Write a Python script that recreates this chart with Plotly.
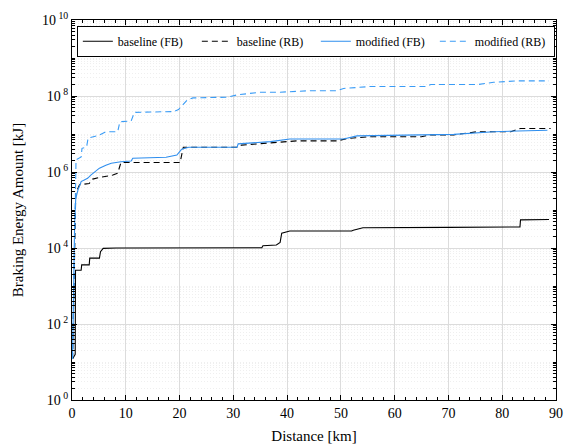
import plotly.graph_objects as go

# ---- data ----
base_fb_x = [0.1, 0.6, 0.65, 1.7, 1.8, 3.2, 3.3, 5.1, 5.3, 5.8, 8.2, 35.3, 35.5, 38.0, 38.7, 39.0, 40.5,
             52.0, 52.3, 54.1, 70.0, 83.3, 83.4, 88.7]
base_fb_y = [12, 16, 2.6e3, 2.6e3, 3.6e3, 3.6e3, 5.4e3, 5.4e3, 8.0e3, 9.8e3, 1.0e4, 1.02e4, 1.15e4, 1.2e4,
             1.4e4, 2.45e4, 2.8e4, 2.8e4, 2.95e4, 3.4e4, 3.5e4, 3.6e4, 5.5e4, 5.6e4]

base_rb_x = [0.1, 0.4, 0.6, 0.7, 1.4, 3.2, 3.85, 5.1, 7.6, 8.5, 9.1, 20.1, 20.7, 30.7, 31.5, 36.9, 41.8,
             49.3, 51.2, 55.5, 65.0, 66.7, 71.0, 75.4, 81.6, 83.4, 89.0]
base_rb_y = [12, 1e3, 3e4, 2.8e5, 4.6e5, 5.0e5, 6.5e5, 7.2e5, 8.3e5, 9.3e5, 1.78e6, 1.78e6, 4.5e6, 4.5e6,
             5.1e6, 5.9e6, 6.6e6, 6.6e6, 7.6e6, 8.5e6, 8.5e6, 9.5e6, 9.5e6, 1.15e7, 1.15e7, 1.4e7, 1.4e7]

mod_fb_x = [0.1, 0.3, 0.5, 0.7, 1.06, 1.7, 2.9, 3.5, 5.1, 6.3, 7.3, 9.1, 11.0, 11.3, 17.5, 19.5, 20.4,
            21.7, 30.7, 30.9, 36.9, 40.5, 50.5, 53.0, 58.6, 71.0, 78.4, 88.4]
mod_fb_y = [12, 1e3, 5e4, 2e5, 3.2e5, 5.6e5, 6.8e5, 8.3e5, 1.26e6, 1.5e6, 1.7e6, 1.86e6, 1.95e6, 2.3e6,
            2.45e6, 2.8e6, 4.0e6, 4.5e6, 4.5e6, 5.5e6, 6.3e6, 7.4e6, 7.4e6, 8.9e6, 9.3e6, 9.8e6, 1.15e7, 1.26e7]

mod_rb_x = [0.1, 0.3, 0.5, 0.75, 1.7, 1.86, 2.7, 3.0, 5.0, 6.3, 8.5, 8.9, 11.0, 11.6, 18.9, 19.8, 21.4,
            22.5, 28.8, 30.7, 35.0, 38.7, 44.3, 49.3, 50.5, 55.5, 66.0, 66.7, 75.4, 78.4, 82.8, 88.7]
mod_rb_y = [12, 1e3, 1e5, 2.1e6, 2.5e6, 4.2e6, 4.5e6, 7.8e6, 9.3e6, 1.15e7, 1.15e7, 2.1e7, 2.2e7, 3.7e7,
            3.9e7, 4.4e7, 7.8e7, 8.9e7, 9.3e7, 1.07e8, 1.26e8, 1.26e8, 1.38e8, 1.38e8, 1.58e8, 1.78e8,
            1.78e8, 2.0e8, 2.0e8, 2.3e8, 2.5e8, 2.5e8]

series_names = ["baseline (FB)", "baseline (RB)", "modified (FB)", "modified (RB)"]

y_exponents = [0, 2, 4, 6, 8, 10]
x_ticks = [0, 10, 20, 30, 40, 50, 60, 70, 80, 90]

# ---- figure ----
FONT = "Liberation Serif"
fig = go.Figure()
styles = [
    (base_fb_x, base_fb_y, "#000000", "solid"),
    (base_rb_x, base_rb_y, "#000000", "6px,4px"),
    (mod_fb_x, mod_fb_y, "#2E8EEE", "solid"),
    (mod_rb_x, mod_rb_y, "#3A9CF6", "6px,4px"),
]
for (xs, ys, col, dash), name in zip(styles, series_names):
    fig.add_trace(go.Scatter(x=xs, y=ys, mode="lines", name=name,
                             line=dict(color=col, width=1.1, dash=dash)))

minor_vals = [m * 10 ** k for k in range(10) for m in range(1, 10)
              if not (m == 1 and k % 2 == 0)]

fig.update_layout(
    width=565, height=448,
    margin=dict(l=72, r=9, t=20, b=48, autoexpand=False),
    paper_bgcolor="white", plot_bgcolor="white",
    font=dict(family=FONT, size=14, color="black"),
    showlegend=True,
    legend=dict(orientation="h", x=0.01, y=0.985, xanchor="left", yanchor="top",
                bgcolor="white", bordercolor="black", borderwidth=1,
                font=dict(family=FONT, size=12, color="black"),
                entrywidth=74, entrywidthmode="pixels",
                itemwidth=30, tracegroupgap=0),
)
fig.update_xaxes(
    range=[0, 90], tickvals=x_ticks, ticktext=[str(v) for v in x_ticks],
    showline=True, linecolor="black", linewidth=1, mirror="ticks",
    ticks="inside", ticklen=5, tickcolor="black",
    showgrid=True, gridcolor="#DCDCDC", gridwidth=1, zeroline=False,
    minor=dict(dtick=2, ticks="inside", ticklen=3, tickcolor="black", showgrid=False),
    title=dict(text="Distance [km]", font=dict(family=FONT, size=15), standoff=10),
    tickfont=dict(family=FONT, size=14),
    automargin=False,
)
fig.update_yaxes(
    type="log", range=[0, 10],
    tickvals=[10 ** e for e in y_exponents],
    ticktext=["10<sup> %d</sup>" % e for e in y_exponents],
    showline=True, linecolor="black", linewidth=1, mirror="ticks",
    ticks="inside", ticklen=5, tickcolor="black",
    showgrid=True, gridcolor="#DCDCDC", gridwidth=1, zeroline=False,
    minor=dict(tickmode="array", tickvals=minor_vals, ticks="inside", ticklen=3,
               tickcolor="black", showgrid=True, gridcolor="#EFEFEF", griddash="1px,2px", gridwidth=1),
    title=dict(text="Braking Energy Amount [kJ]", font=dict(family=FONT, size=15), standoff=14),
    tickfont=dict(family=FONT, size=14),
    automargin=False,
)

fig.write_html("out.html")
